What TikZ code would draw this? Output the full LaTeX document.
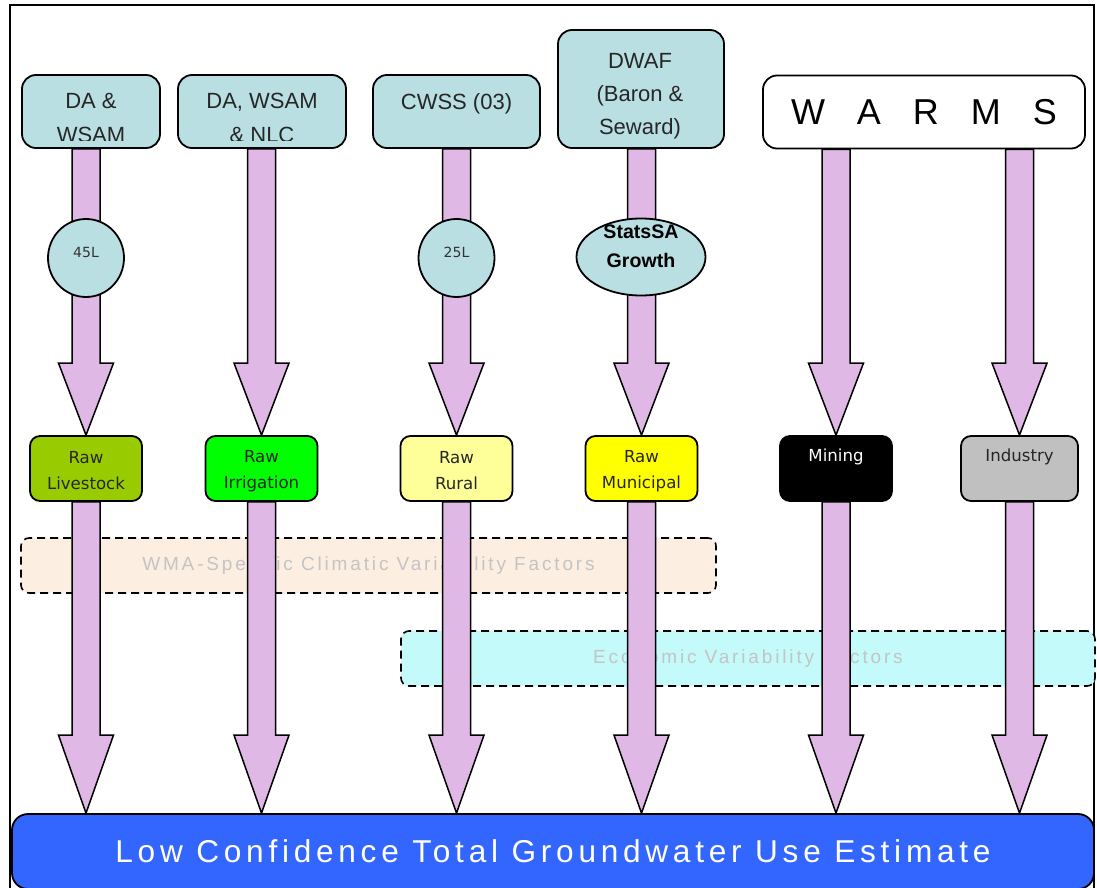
\documentclass[tikz,border=0pt]{standalone}
\usepackage{fontspec}
\setmainfont{Liberation Sans}
\newfontfamily\dejavu{DejaVu Sans}
\newfontfamily\spacedfont[LetterSpace=15]{Liberation Sans}
\usetikzlibrary{shapes.geometric,calc}
\definecolor{lav}{RGB}{224,184,230}
\definecolor{tealb}{RGB}{185,223,226}
\definecolor{livest}{RGB}{153,204,0}
\definecolor{irrig}{RGB}{0,255,0}
\definecolor{rural}{RGB}{255,255,153}
\definecolor{munic}{RGB}{255,255,0}
\definecolor{indus}{RGB}{192,192,192}
\definecolor{bluebox}{RGB}{51,102,255}
\definecolor{bandor}{RGB}{253,238,226}
\definecolor{bandcy}{RGB}{196,250,250}
\definecolor{bandtxt}{RGB}{196,196,196}
\tikzset{
  topbox/.style={draw, line width=0.9pt, rounded corners=7pt, fill=tealb, inner sep=0pt},
  toptext/.style={align=center, anchor=north, inner sep=0pt, text=black!85, font=\fontsize{11}{17}\selectfont},
  rawbox/.style={draw, line width=0.9pt, rounded corners=5pt, inner sep=0pt, minimum height=32.5pt},
  rawtext/.style={align=center, inner sep=0pt, text=black!85, font=\dejavu\fontsize{8.3}{13}\selectfont},
  circbox/.style={draw, ellipse, line width=0.9pt, fill=tealb, inner sep=0pt},
  circtext/.style={inner sep=0pt, text=black!80, font=\dejavu\fontsize{7}{8}\selectfont},
  band/.style={draw, dash pattern=on 4pt off 2.5pt, line width=0.8pt, rounded corners=4pt,
    minimum height=27.5pt, inner sep=0pt, text=bandtxt, font=\spacedfont\fontsize{9.5}{11}\selectfont},
  fat/.style={draw, fill=lav, line width=0.75pt, line join=miter},
}
\newcommand\fatarrow[3]{%
  \draw[fat] let \p1=#1, \p2=#2 in
    (\x2-7pt,\y1) -- (\x2-7pt,\y2+#3) -- (\x2-13.75pt,\y2+#3) -- (\x2,\y2)
    -- (\x2+13.75pt,\y2+#3) -- (\x2+7pt,\y2+#3) -- (\x2+7pt,\y1) -- cycle;}
\begin{document}
\begin{tikzpicture}[x=0.5pt,y=-0.5pt]
\useasboundingbox (0,0) rectangle (1097,888);
\clip (0,0) rectangle (1097,888);
\fill[white] (0,0) rectangle (1097,888);
\draw[line width=1pt] (10,5) rectangle (1094,930);

% variability bands
\node[band, fill=bandor, minimum width=347.5pt] (wma) at (368.5,565.5) {WMA-Specific Climatic Variability Factors};
\node[band, fill=bandcy, minimum width=347pt] (eco) at (748,658.5) {Economic Variability Factors};

% total
\node[draw, line width=0.9pt, rounded corners=8pt, fill=bluebox, minimum width=541pt, minimum height=37.5pt,
  inner sep=0pt, text=white, font=\spacedfont\fontsize{15.8}{18}\selectfont] (total) at (553,851.5)
  {Low Confidence Total Groundwater Use Estimate};

% source boxes
\node[topbox, minimum width=69pt, minimum height=36.5pt] (t1) at (91,111.5) {};
\node[topbox, minimum width=84pt, minimum height=36.5pt] (t2) at (262,111.5) {};
\node[topbox, minimum width=83.5pt, minimum height=36.5pt] (t3) at (456.5,111.5) {};
\node[topbox, minimum width=83pt, minimum height=59pt] (t4) at (641,89) {};
\node[topbox, fill=white, minimum width=161pt, minimum height=36.5pt, font=\fontsize{18}{20}\selectfont] (t5) at (924,112)
  {\spaceskip=16pt\relax W A R M S};

\begin{scope}
  \clip (20,75) rectangle (165,140);
  \node[toptext] (t1t) at (91,93) {DA \&\\WSAM};
\end{scope}
\begin{scope}
  \clip (175,75) rectangle (350,140);
  \node[toptext] (t2t) at (262,93) {DA, WSAM\\\& NLC};
\end{scope}
\node[toptext] (t3t) at (456.5,93) {CWSS (03)};
\node[toptext, font=\fontsize{11}{16.5}\selectfont] (t4t) at (640,53) {DWAF\\(Baron \&\\Seward)};

% raw use boxes
\node[rawbox, fill=livest, minimum width=56pt] (r1) at (86,468.5) {};
\node[rawbox, fill=irrig, minimum width=56pt] (r2) at (261.5,468.5) {};
\node[rawbox, fill=rural, minimum width=56pt] (r3) at (456.5,468.5) {};
\node[rawbox, fill=munic, minimum width=56pt] (r4) at (641.5,468.5) {};
\node[rawbox, fill=black, minimum width=56pt] (r5) at (836,468.5) {};
\node[rawbox, fill=indus, minimum width=58.5pt] (r6) at (1019.5,468.5) {};
\node[rawtext] (r1t) at (86,471) {Raw\\Livestock};
\node[rawtext] (r2t) at (261.5,471) {Raw\\Irrigation};
\node[rawtext] (r3t) at (456.5,471) {Raw\\Rural};
\node[rawtext] (r4t) at (641.5,471) {Raw\\Municipal};
\node[rawtext, text=white] (r5t) at (836,457) {Mining};
\node[rawtext] (r6t) at (1019.5,457) {Industry};

% first-level arrows
\fatarrow{(t1.south -| r1.north)}{(r1.north)}{36pt}
\fatarrow{(t2.south -| r2.north)}{(r2.north)}{36pt}
\fatarrow{(t3.south -| r3.north)}{(r3.north)}{36pt}
\fatarrow{(t4.south -| r4.north)}{(r4.north)}{36pt}
\fatarrow{(t5.south -| r5.north)}{(r5.north)}{36pt}
\fatarrow{(t5.south -| r6.north)}{(r6.north)}{36pt}

% factor circles
\node[circbox, minimum width=38pt, minimum height=39pt] (c1) at (86,258) {};
\node[circtext] (c1t) at (86,252) {45L};
\node[circbox, minimum width=38pt, minimum height=39pt] (c2) at (456.5,258) {};
\node[circtext] (c2t) at (456.5,252) {25L};
\node[circbox, minimum width=64.5pt, minimum height=38.5pt] (c3) at (641,257) {};
\node[align=center, inner sep=0pt, font=\bfseries\fontsize{9.8}{14.5}\selectfont] (c3t) at (641,246.5) {StatsSA\\Growth};

% second-level arrows
\fatarrow{(r1.south)}{(r1.south |- total.north)}{39pt}
\fatarrow{(r2.south)}{(r2.south |- total.north)}{39pt}
\fatarrow{(r3.south)}{(r3.south |- total.north)}{39pt}
\fatarrow{(r4.south)}{(r4.south |- total.north)}{39pt}
\fatarrow{(r5.south)}{(r5.south |- total.north)}{39pt}
\fatarrow{(r6.south)}{(r6.south |- total.north)}{39pt}
\end{tikzpicture}
\end{document}
